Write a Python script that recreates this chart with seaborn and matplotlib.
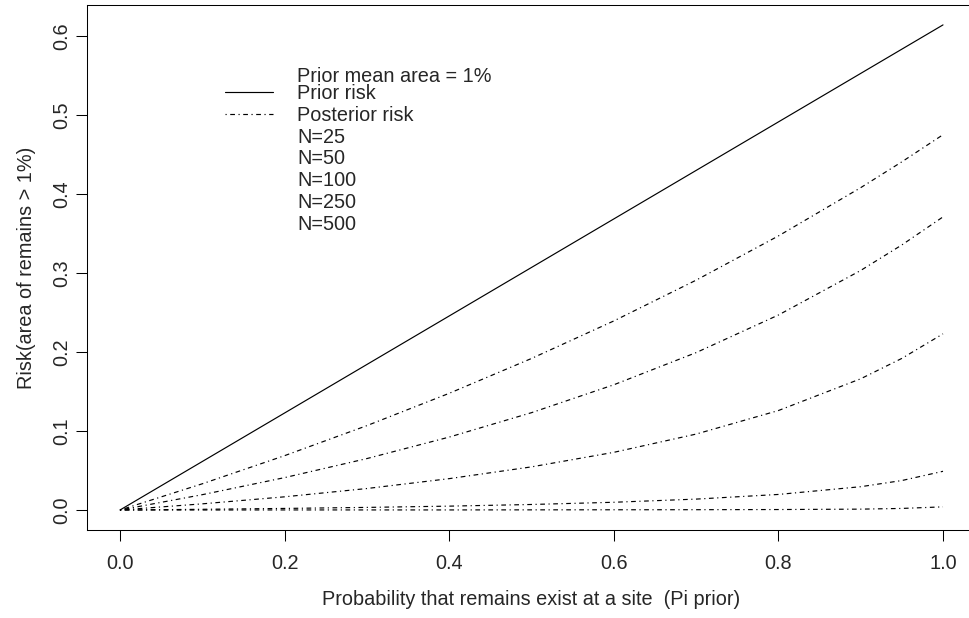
import numpy as np
import pandas as pd
import matplotlib
matplotlib.use("Agg")
import matplotlib.pyplot as plt
import seaborn as sns
from matplotlib.lines import Line2D

# ---- data ----
pi_prior = [0.0, 0.1, 0.2, 0.3, 0.4, 0.5, 0.6, 0.7, 0.8, 0.9, 0.95, 1.0]
prior_risk = [0.0, 0.0614, 0.1228, 0.1842, 0.2456, 0.3070, 0.3684, 0.4298, 0.4912, 0.5526, 0.5833, 0.6140]
post_n25 = [0.0, 0.0332, 0.0688, 0.1068, 0.1477, 0.1918, 0.2393, 0.2909, 0.3469, 0.4080, 0.4407, 0.4750]
post_n50 = [0.0, 0.0194, 0.0410, 0.0651, 0.0923, 0.1232, 0.1585, 0.1992, 0.2468, 0.3032, 0.3355, 0.3710]
post_n100 = [0.0, 0.0078, 0.0167, 0.0272, 0.0397, 0.0546, 0.0730, 0.0961, 0.1259, 0.1661, 0.1919, 0.2230]
post_n250 = [0.0, 0.0009, 0.0020, 0.0033, 0.0049, 0.0070, 0.0098, 0.0138, 0.0197, 0.0295, 0.0373, 0.0490]
post_n500 = [0.0, 0.0000, 0.0001, 0.0001, 0.0001, 0.0002, 0.0003, 0.0004, 0.0006, 0.0011, 0.0020, 0.0040]
sample_sizes = ["N=25", "N=50", "N=100", "N=250", "N=500"]
x_ticks = [0.0, 0.2, 0.4, 0.6, 0.8, 1.0]
y_ticks = [0.0, 0.1, 0.2, 0.3, 0.4, 0.5, 0.6]

sns.set_style("white")
plt.rcParams["font.family"] = ["Liberation Sans", "DejaVu Sans"]
FS = 14.3

W, H = 969, 618
fig = plt.figure(figsize=(W / 100, H / 100), dpi=100)
ax_w = 976 - 87
ax_h = 530 - 5
ax = fig.add_axes([87 / W, (H - 530) / H, ax_w / W, ax_h / H])

dotdash = (0, (1, 3, 4, 3))
lw = 0.85
sns.lineplot(x=pi_prior, y=prior_risk, ax=ax, color="black", linewidth=lw, linestyle="-")
for ys in [post_n25, post_n50, post_n100, post_n250, post_n500]:
    sns.lineplot(x=pi_prior, y=ys, ax=ax, color="black", linewidth=lw, linestyle=dotdash)

ax.set_xlim(-0.0401, 1.0401)
ax.set_ylim(-0.0253, 0.6392)
ax.set_xticks(x_ticks)
ax.set_xticklabels([f"{v:.1f}" for v in x_ticks])
ax.set_yticks(y_ticks)
ax.set_yticklabels([f"{v:.1f}" for v in y_ticks], rotation=90, va="center")
ax.tick_params(axis="both", direction="out", length=8, width=0.75, color="black",
               labelsize=FS, bottom=True, left=True)
ax.tick_params(axis="x", pad=9.5)
ax.tick_params(axis="y", pad=3)
for s in ax.spines.values():
    s.set_color("black")
    s.set_linewidth(0.75)

ax.set_xlabel("Probability that remains exist at a site  (Pi prior)", fontsize=FS, labelpad=12)
ax.set_ylabel("Risk(area of remains > 1%)", fontsize=FS, labelpad=12)

ax.text(0.215, 0.549, "Prior mean area = 1%", fontsize=FS, va="center", ha="left")

handles = [Line2D([], [], color="black", linewidth=lw, linestyle="-"),
           Line2D([], [], color="black", linewidth=lw, linestyle=dotdash)]
handles += [Line2D([], [], color="none") for _ in sample_sizes]
labels = ["Prior risk", "Posterior risk"] + sample_sizes
ax.legend(handles, labels, loc="upper left",
          bbox_to_anchor=((225 - 87) / ax_w, (530 - 84) / ax_h),
          frameon=False, fontsize=FS, handlelength=2.42, handletextpad=1.21,
          labelspacing=0.14, borderpad=0, borderaxespad=0)

fig.savefig("out.png", dpi=100)
